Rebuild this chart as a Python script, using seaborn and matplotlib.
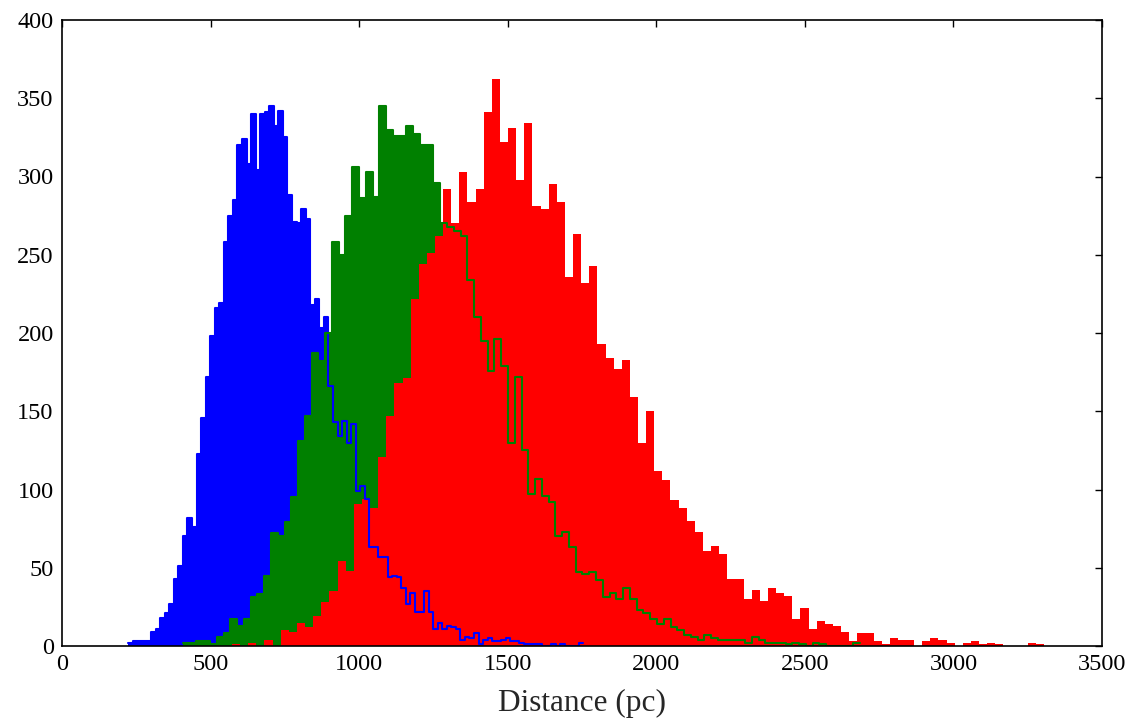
import numpy as np
import pandas as pd
import matplotlib
matplotlib.use("Agg")
import matplotlib.pyplot as plt
import seaborn as sns

# ---- data: histogram counts (100 bins each) ----
blue_range = (223.0, 1754.0)
blue_counts = [2, 3, 3, 3, 3, 9, 11, 18, 21, 27, 43, 51, 70, 82, 76, 123, 146, 172, 198, 216,
               219, 258, 275, 285, 320, 324, 308, 340, 304, 340, 341, 345, 332, 342, 325, 288, 271, 270, 279, 273,
               218, 222, 203, 210, 166, 143, 134, 144, 130, 142, 99, 102, 94, 63, 63, 57, 57, 44, 45, 44,
               37, 27, 34, 22, 22, 35, 22, 11, 15, 11, 13, 12, 11, 4, 6, 5, 8, 1, 4, 5,
               3, 3, 4, 5, 3, 3, 2, 1, 1, 1, 1, 0, 0, 1, 0, 1, 0, 0, 0, 2]

green_range = (407.0, 2686.0)
green_counts = [2, 2, 3, 3, 1, 6, 8, 17, 13, 17, 31, 33, 45, 72, 70, 79, 95, 131, 147, 187,
                182, 200, 258, 250, 275, 306, 286, 303, 287, 345, 330, 326, 326, 332, 327, 320, 320, 296, 270, 268,
                265, 262, 234, 210, 195, 176, 196, 179, 130, 172, 125, 97, 107, 96, 92, 70, 73, 63, 47, 46,
                47, 42, 31, 34, 30, 37, 30, 23, 21, 17, 14, 17, 12, 10, 7, 6, 4, 7, 5, 4,
                4, 4, 4, 2, 6, 4, 2, 2, 2, 1, 2, 1, 0, 2, 1, 0, 0, 0, 0, 2]

red_range = (572.0, 3305.0)
red_counts = [1, 0, 2, 0, 4, 0, 10, 9, 15, 12, 19, 28, 35, 54, 48, 91, 94, 88, 121, 147,
              168, 171, 222, 244, 251, 262, 292, 270, 303, 284, 292, 341, 362, 322, 331, 298, 334, 281, 279, 295,
              284, 236, 263, 232, 243, 193, 184, 177, 183, 159, 130, 150, 112, 106, 93, 88, 80, 73, 61, 64,
              59, 43, 43, 30, 36, 29, 37, 34, 32, 17, 24, 11, 16, 14, 13, 9, 3, 8, 8, 3,
              1, 5, 4, 4, 0, 3, 5, 4, 2, 0, 2, 3, 1, 2, 1, 0, 0, 0, 2, 1]

x_ticks = [0, 500, 1000, 1500, 2000, 2500, 3000, 3500]
y_ticks = [0, 50, 100, 150, 200, 250, 300, 350, 400]
x_label = "Distance (pc)"

sns.set_theme(style="white")
plt.rcParams["font.family"] = ["Liberation Serif", "DejaVu Serif"]

fig = plt.figure(figsize=(11.35, 7.21), dpi=100)
ax = fig.add_axes([62 / 1135, 75 / 721, 1040 / 1135, 626 / 721])

series = [("#0000ff", blue_range, blue_counts),
          ("#008000", green_range, green_counts),
          ("#ff0000", red_range, red_counts)]

def prep(rng, counts):
    n = len(counts)
    edges = np.linspace(rng[0], rng[1], n + 1)
    centers = 0.5 * (edges[:-1] + edges[1:])
    return pd.DataFrame({"d": centers, "w": np.asarray(counts, dtype=float)}), n

# filled histograms first
for color, rng, counts in series:
    df, n = prep(rng, counts)
    sns.histplot(data=df, x="d", weights="w", bins=n, binrange=rng, element="step", fill=True,
                 color=color, alpha=1.0, linewidth=0, ax=ax)

# outlines of blue and green drawn on top
for color, rng, counts in series[:2]:
    df, n = prep(rng, counts)
    sns.histplot(data=df, x="d", weights="w", bins=n, binrange=rng, element="step", fill=False,
                 color=color, linewidth=1.5, ax=ax)

ax.set_xlim(0, 3500)
ax.set_ylim(0, 400)
ax.set_xticks(x_ticks)
ax.set_yticks(y_ticks)
ax.set_xlabel(x_label, fontsize=22.5, labelpad=10)
ax.set_ylabel("")
ax.tick_params(direction="in", top=True, right=True, length=5, width=1,
               labelsize=17.5, pad=6, color="black", labelcolor="black")
for sp in ax.spines.values():
    sp.set_visible(True)
    sp.set_color("black")
    sp.set_linewidth(1.2)
ax.set_facecolor("white")
fig.patch.set_facecolor("white")

fig.savefig("out.png", dpi=100, facecolor="white")
